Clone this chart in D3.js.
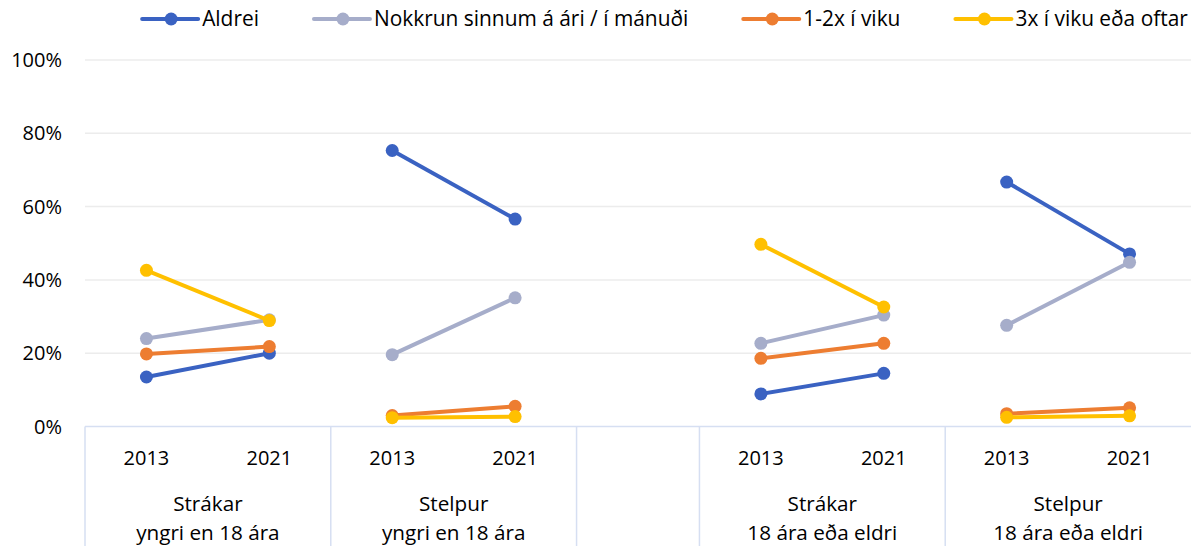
<!DOCTYPE html>
<html lang="is">
<head>
    <meta charset="UTF-8">
    <title>Chart</title>
    <script src="https://d3js.org/d3.v7.min.js"></script>
    <style>
        body {margin: 0; background: #fff;}
        text {
            font-family: "Open Sans", "Noto Sans", sans-serif;
            font-size: 20px;
            fill: #000;
        }
        text.legend {font-size: 20.9px;}
        text.group {font-size: 20.7px;}
    </style>
</head>
<body>
<script>
    const width = 1191;
    const height = 546;

    // data (percent)
    const years = ["2013", "2021"];
    const groups = [
        ["Strákar", "yngri en 18 ára"],
        ["Stelpur", "yngri en 18 ára"],
        ["Strákar", "18 ára eða eldri"],
        ["Stelpur", "18 ára eða eldri"]
    ];
    const seriesNames = ["Aldrei", "Nokkrun sinnum á ári / í mánuði", "1-2x í viku", "3x í viku eða oftar"];
    const seriesColors = ["#3a62c2", "#a6adca", "#ed7d31", "#ffc000"];
    const aldrei   = [[13.5, 20.0], [75.3, 56.6], [8.9, 14.5], [66.7, 47.1]];
    const nokkrun  = [[24.0, 29.1], [19.6, 35.1], [22.7, 30.4], [27.6, 44.8]];
    const vika12   = [[19.8, 21.8], [3.0, 5.5], [18.6, 22.7], [3.5, 5.1]];
    const vika3    = [[42.6, 28.9], [2.4, 2.7], [49.7, 32.6], [2.5, 2.9]];
    const yTicks = [0, 20, 40, 60, 80, 100];

    const allSeries = [aldrei, nokkrun, vika12, vika3];

    // slots along the x axis: 2 per group, with an empty slot after group 2
    const slots = [];
    groups.forEach((g, gi) => {
        years.forEach(y => slots.push(gi + "-" + y));
        if (gi === 1) slots.push("gap");
    });

    const svg = d3.select("body").append("svg")
            .attr("width", width).attr("height", height);

    const x = d3.scaleBand().domain(slots).range([85, 1191]);
    const y = d3.scaleLinear().domain([0, 100]).range([426.5, 60]);

    // gridlines
    svg.append("g").selectAll("line")
            .data(yTicks.filter(d => d > 0))
            .enter().append("line")
            .attr("x1", 85).attr("x2", width)
            .attr("y1", d => y(d)).attr("y2", d => y(d))
            .style("stroke", "#ececec")
            .style("stroke-width", 1.5);

    // y labels
    svg.append("g").selectAll("text")
            .data(yTicks)
            .enter().append("text")
            .attr("x", 62).attr("y", d => y(d) + 7)
            .attr("text-anchor", "end")
            .text(d => d + "%");

    // category axis box
    const axisColor = "#d6dff2";
    svg.append("line")
            .attr("x1", 85).attr("x2", width)
            .attr("y1", y(0)).attr("y2", y(0))
            .style("stroke", axisColor).style("stroke-width", 1.5);

    const bounds = [x("0-2013"), x("1-2013"), x("gap"), x("2-2013"), x("3-2013")];
    svg.append("g").selectAll("line")
            .data(bounds)
            .enter().append("line")
            .attr("x1", d => d).attr("x2", d => d)
            .attr("y1", y(0)).attr("y2", height)
            .style("stroke", axisColor).style("stroke-width", 1.5);

    // year labels
    const cx = key => x(key) + x.bandwidth() / 2;
    svg.append("g").selectAll("text")
            .data(slots.filter(s => s !== "gap"))
            .enter().append("text")
            .attr("x", cx).attr("y", 465)
            .attr("text-anchor", "middle")
            .text(d => d.split("-")[1]);

    // group labels
    groups.forEach((g, gi) => {
        const mid = (x(gi + "-2013") + x(gi + "-2021") + x.bandwidth()) / 2;
        const t = svg.append("text").attr("class", "group")
                .attr("x", mid).attr("y", 511)
                .attr("text-anchor", "middle");
        t.append("tspan").attr("x", mid).text(g[0]);
        t.append("tspan").attr("x", mid).attr("dy", 29).text(g[1]);
    });

    // series lines and markers
    const line = d3.line()
            .x(d => d.x)
            .y(d => y(d.v));

    allSeries.forEach((s, si) => {
        const gs = svg.append("g").attr("class", "series");
        s.forEach((vals, gi) => {
            const pts = vals.map((v, i) => ({x: cx(gi + "-" + years[i]), v: v}));
            gs.append("path")
                    .datum(pts)
                    .attr("d", line)
                    .style("fill", "none")
                    .style("stroke", seriesColors[si])
                    .style("stroke-width", 4);
            gs.selectAll(null)
                    .data(pts)
                    .enter().append("circle")
                    .attr("cx", d => d.x).attr("cy", d => y(d.v))
                    .attr("r", 6.5)
                    .style("fill", seriesColors[si]);
        });
    });

    // legend
    const legend = svg.append("g");
    const items = legend.selectAll("g")
            .data(seriesNames)
            .enter().append("g");
    items.append("line")
            .attr("x1", 0).attr("x2", 56)
            .attr("y1", 19).attr("y2", 19)
            .style("stroke", (d, i) => seriesColors[i])
            .style("stroke-width", 4)
            .style("stroke-linecap", "round");
    items.append("circle")
            .attr("cx", 29).attr("cy", 19).attr("r", 6.5)
            .style("fill", (d, i) => seriesColors[i]);
    items.append("text").attr("class", "legend")
            .attr("x", 60).attr("y", 26)
            .text(d => d);

    let pos = 0;
    const offsets = [];
    items.each(function() {
        offsets.push(pos);
        pos += 60 + d3.select(this).select("text").node().getComputedTextLength() + 55;
    });
    const total = pos - 55;
    const start = 665 - total / 2;
    items.attr("transform", (d, i) => `translate(${start + offsets[i]},0)`);
</script>
</body>
</html>
